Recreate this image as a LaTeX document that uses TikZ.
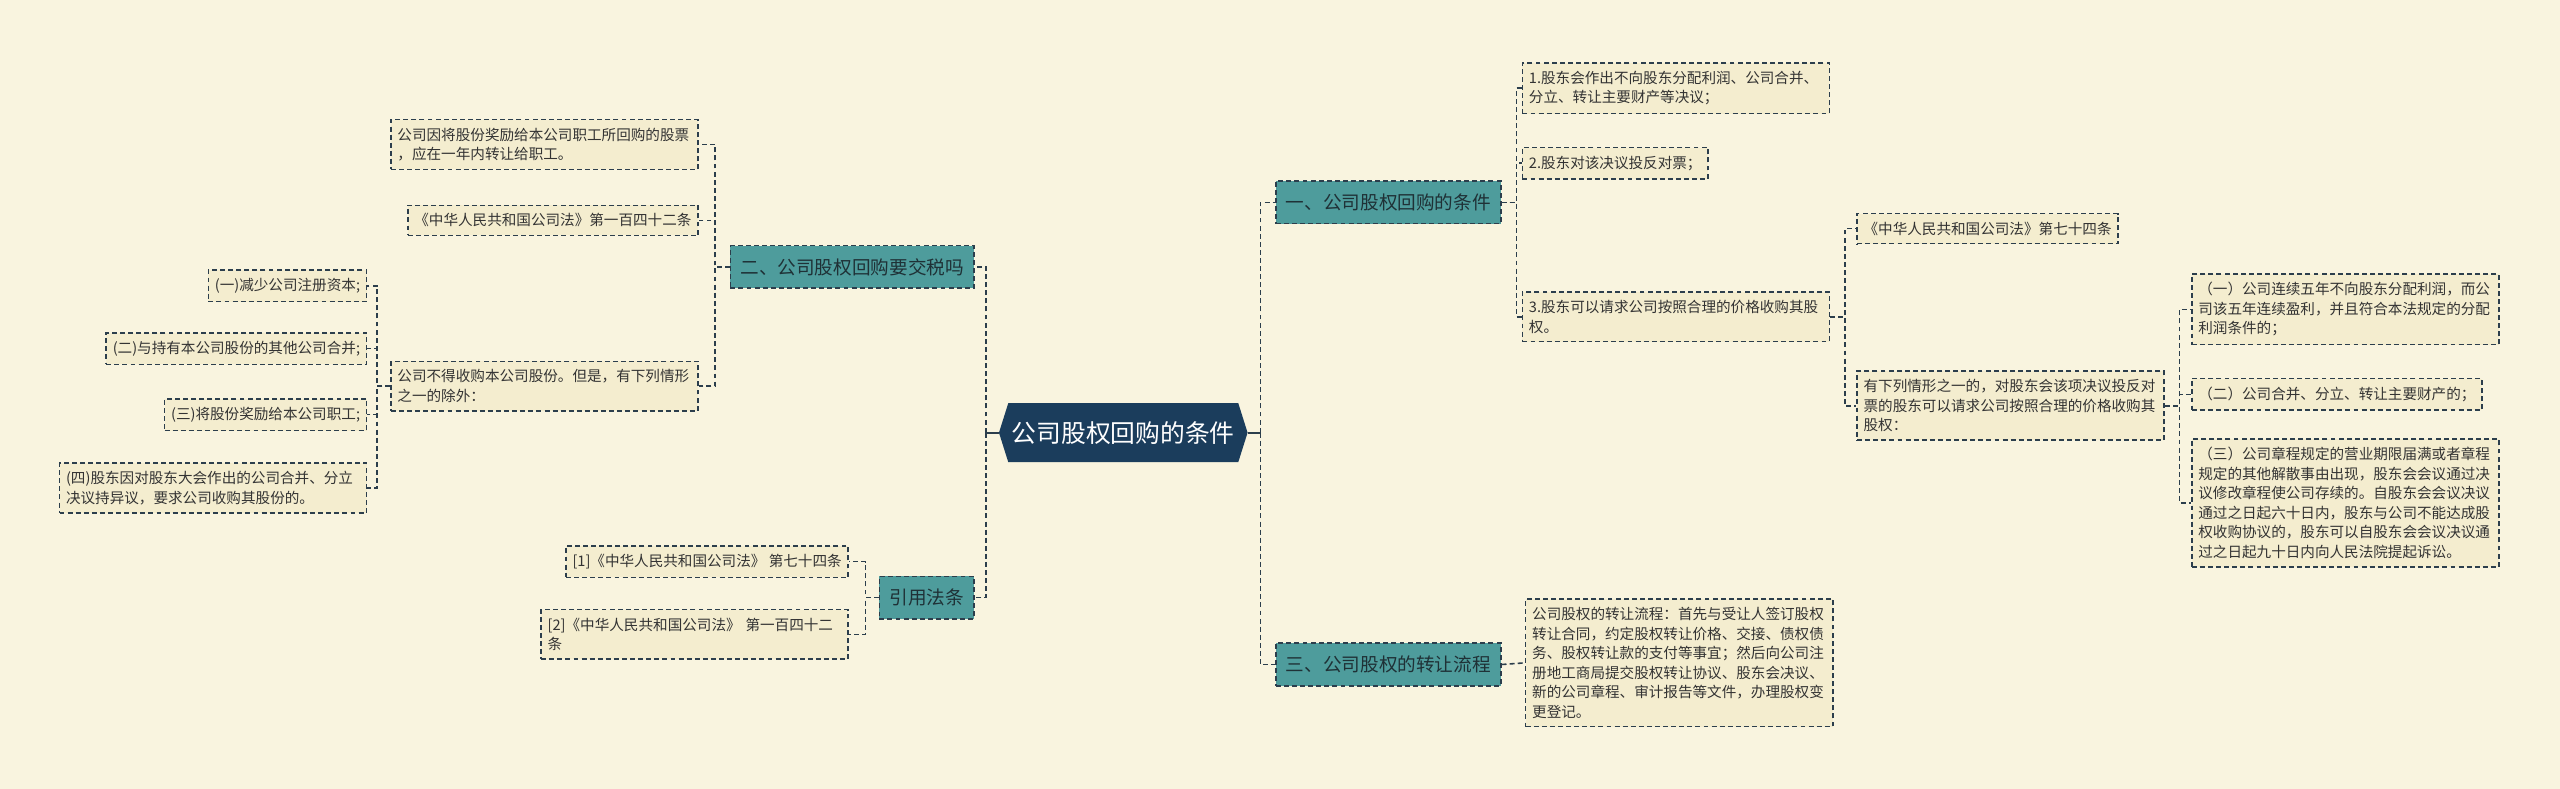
\documentclass[tikz,border=0pt]{standalone}
\usepackage{fontspec}
\setmainfont{Noto Sans CJK SC}
\usepackage{tikz}
\usetikzlibrary{shapes.symbols}

\definecolor{bgclr}{HTML}{F9F4DF}
\definecolor{leafclr}{HTML}{F4EDCF}
\definecolor{tealclr}{HTML}{4E9C9C}
\definecolor{navyclr}{HTML}{1B3D5C}
\definecolor{lineclr}{HTML}{2C3E4C}
\definecolor{txtclr}{HTML}{333333}
\definecolor{branchtxt}{HTML}{1F3136}

\begin{document}
\begin{tikzpicture}[
  x=0.03265cm, y=-0.03265cm,
  leaf/.style={draw=lineclr, dash pattern=on 2.8pt off 1.8pt, line width=0.9pt, fill=leafclr,
    text=txtclr, font=\fontsize{8.3}{11.1}\selectfont, inner xsep=0.13cm, inner ysep=0.165cm, align=left},
  wideleaf/.style={leaf, text width=5.88cm},
  branch/.style={draw=lineclr, dash pattern=on 2.8pt off 1.8pt, line width=0.9pt, fill=tealclr,
    text=branchtxt, font=\fontsize{10.6}{13}\selectfont, inner xsep=0.2cm, minimum height=0.85cm},
  rootbox/.style={signal, signal to=west and east, signal pointer angle=145, fill=navyclr,
    text=white, font=\fontsize{14.1}{17}\selectfont, minimum height=1.18cm, inner xsep=0.07cm},
  link/.style={draw=lineclr, line width=0.9pt, dash pattern=on 2.8pt off 1.8pt},
  stub/.style={draw=lineclr, line width=1.3pt}
]

  \path[fill=bgclr, use as bounding box] (0,0) rectangle (1568,483);

  % Centre
  \node[rootbox] (root) at (688, 265) {公司股权回购的条件};
  \coordinate (rootL) at (604, 265);
  \coordinate (rootR) at (772, 265);

  % Right branches
  \node[branch, anchor=west] (cond) at (781, 124) {一、公司股权回购的条件};
  \node[branch, anchor=west] (proc) at (781, 407) {三、公司股权的转让流程};

  \node[wideleaf, anchor=west] (c1) at (932, 54) {1.股东会作出不向股东分配利润、公司合并、\\分立、转让主要财产等决议；};
  \node[leaf, anchor=west] (c2) at (932, 100) {2.股东对该决议投反对票；};
  \node[wideleaf, anchor=west] (c3) at (932, 194) {3.股东可以请求公司按照合理的价格收购其股\\权。};

  \node[leaf, anchor=west] (art74) at (1137, 140) {《中华人民共和国公司法》第七十四条};
  \node[wideleaf, anchor=west] (case) at (1137, 248.5) {有下列情形之一的，对股东会该项决议投反对\\票的股东可以请求公司按照合理的价格收购其\\股权：};

  \node[wideleaf, anchor=west] (k1) at (1342, 189.5) {（一）公司连续五年不向股东分配利润，而公\\司该五年连续盈利，并且符合本法规定的分配\\利润条件的；};
  \node[leaf, anchor=west] (k2) at (1342, 241.5) {（二）公司合并、分立、转让主要财产的；};
  \node[wideleaf, anchor=west] (k3) at (1342, 308) {（三）公司章程规定的营业期限届满或者章程\\规定的其他解散事由出现，股东会会议通过决\\议修改章程使公司存续的。自股东会会议决议\\通过之日起六十日内，股东与公司不能达成股\\权收购协议的，股东可以自股东会会议决议通\\过之日起九十日内向人民法院提起诉讼。};

  \node[wideleaf, anchor=west] (flow) at (934, 406) {公司股权的转让流程：首先与受让人签订股权\\转让合同，约定股权转让价格、交接、债权债\\务、股权转让款的支付等事宜；然后向公司注\\册地工商局提交股权转让协议、股东会决议、\\新的公司章程、审计报告等文件，办理股权变\\更登记。};

  % Left branches
  \node[branch, anchor=east] (tax) at (597, 163.5) {二、公司股权回购要交税吗};
  \node[branch, anchor=east] (cite) at (597, 366) {引用法条};

  \node[wideleaf, anchor=east] (t1) at (428, 88.5) {公司因将股份奖励给本公司职工所回购的股票\\，应在一年内转让给职工。};
  \node[leaf, anchor=east] (t2) at (428, 135) {《中华人民共和国公司法》第一百四十二条};
  \node[wideleaf, anchor=east] (t3) at (428, 236.5) {公司不得收购本公司股份。但是，有下列情形\\之一的除外：};

  \node[leaf, anchor=east] (s1) at (225, 175) {(一)减少公司注册资本;};
  \node[leaf, anchor=east] (s2) at (225, 213.5) {(二)与持有本公司股份的其他公司合并;};
  \node[leaf, anchor=east] (s3) at (225, 254) {(三)将股份奖励给本公司职工;};
  \node[wideleaf, anchor=east] (s4) at (225, 299) {(四)股东因对股东大会作出的公司合并、分立\\决议持异议，要求公司收购其股份的。};

  \node[leaf, anchor=east] (r1) at (520, 344) {[1]《中华人民共和国公司法》 第七十四条};
  \node[wideleaf, anchor=east] (r2) at (520, 388.5) {[2]《中华人民共和国公司法》 第一百四十二\\条};

  % Connectors from the centre
  \draw[stub] (root.east) -- (rootR);
  \draw[stub] (root.west) -- (rootL);
  \draw[link] (rootR) |- (cond.west);
  \draw[link] (rootR) |- (proc.west);
  \draw[link] (rootL) |- (tax.east);
  \draw[link] (rootL) |- (cite.east);

  % Right side
  \draw[link] (cond.east) -- ++(9,0) |- (c1.west);
  \draw[link] (cond.east) -- ++(9,0) |- (c2.west);
  \draw[link] (cond.east) -- ++(9,0) |- (c3.west);
  \draw[link] (c3.east) -- ++(9,0) |- (art74.west);
  \draw[link] (c3.east) -- ++(9,0) |- (case.west);
  \draw[link] (case.east) -- ++(9,0) |- (k1.west);
  \draw[link] (case.east) -- ++(9,0) |- (k2.west);
  \draw[link] (case.east) -- ++(9,0) |- (k3.west);
  \draw[link] (proc.east) -- (flow.west);

  % Left side
  \draw[link] (tax.west) -- ++(-9,0) |- (t1.east);
  \draw[link] (tax.west) -- ++(-9,0) |- (t2.east);
  \draw[link] (tax.west) -- ++(-9,0) |- (t3.east);
  \draw[link] (t3.west) -- ++(-8,0) |- (s1.east);
  \draw[link] (t3.west) -- ++(-8,0) |- (s2.east);
  \draw[link] (t3.west) -- ++(-8,0) |- (s3.east);
  \draw[link] (t3.west) -- ++(-8,0) |- (s4.east);
  \draw[link] (cite.west) -- ++(-8,0) |- (r1.east);
  \draw[link] (cite.west) -- ++(-8,0) |- (r2.east);

\end{tikzpicture}
\end{document}
